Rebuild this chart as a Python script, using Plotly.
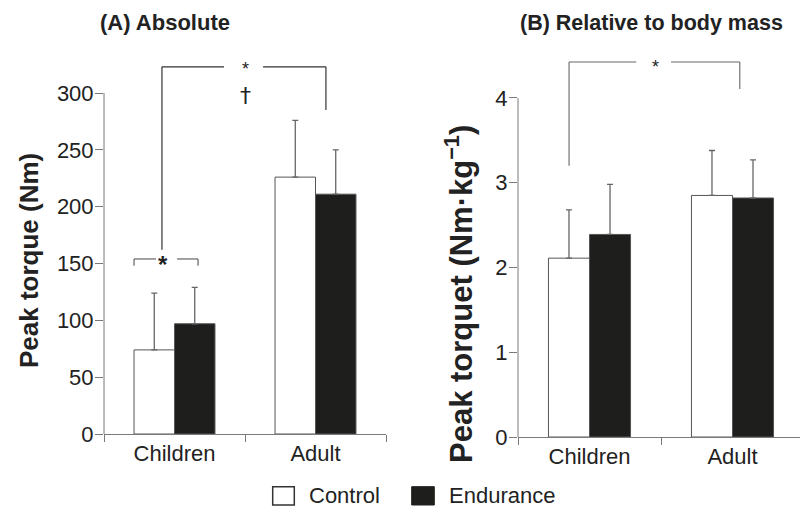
import plotly.graph_objects as go

# ---- data ----
groups = ["Children", "Adult"]
series_names = ["Control", "Endurance"]

abs_control = [74, 226]
abs_control_sd = [50, 50]
abs_endurance = [97, 211]
abs_endurance_sd = [32, 39]

rel_control = [2.11, 2.85]
rel_control_sd = [0.57, 0.53]
rel_endurance = [2.39, 2.82]
rel_endurance_sd = [0.59, 0.45]

abs_ticks = [0, 50, 100, 150, 200, 250, 300]
rel_ticks = [0, 1, 2, 3, 4]

# ---- style ----
FONT = "Liberation Sans, Arial, sans-serif"
AXIS_GREY = "#7a7a7a"
BAR_EDGE = "#555555"
DARK = "#1e1e1c"
TEXT = "#222222"

fig = go.Figure()


def add_bars(values, sd, fill, xa, ya):
    fig.add_trace(go.Bar(
        x=groups, y=values,
        marker=dict(color=fill, line=dict(color=BAR_EDGE, width=1)),
        error_y=dict(type="data", array=sd, arrayminus=[0] * len(sd),
                     symmetric=False, color="#666666", thickness=1.3, width=3),
        xaxis=xa, yaxis=ya, showlegend=False, hoverinfo="skip",
    ))


add_bars(abs_control, abs_control_sd, "white", "x", "y")
add_bars(abs_endurance, abs_endurance_sd, DARK, "x", "y")
add_bars(rel_control, rel_control_sd, "white", "x2", "y2")
add_bars(rel_endurance, rel_endurance_sd, DARK, "x2", "y2")

tickfont = dict(family=FONT, size=22, color=TEXT)

xcommon = dict(type="category", showline=True, linecolor=AXIS_GREY, linewidth=1,
               ticks="outside", tickson="boundaries", ticklen=7, tickcolor=AXIS_GREY,
               tickfont=tickfont, showgrid=False, zeroline=False, fixedrange=True,
               automargin=False)
ycommon = dict(showline=False, ticks="outside", ticklen=8, tickcolor=AXIS_GREY,
               tickfont=tickfont, showgrid=False, zeroline=False, fixedrange=True,
               ticklabelstandoff=-3, automargin=False)

fig.update_layout(
    width=800, height=510,
    margin=dict(l=0, r=0, t=0, b=0, pad=0, autoexpand=False),
    paper_bgcolor="white", plot_bgcolor="white",
    showlegend=False,
    barmode="group", bargap=0.426, bargroupgap=0,
    xaxis=dict(domain=[0.13, 0.4825], range=[-0.5, 1.5], anchor="y", **xcommon),
    yaxis=dict(domain=[0.149, 0.8845], range=[0, 330], tickvals=abs_ticks,
               anchor="x", **ycommon),
    xaxis2=dict(domain=[0.6475, 1.0], range=[-0.5, 1.472], anchor="y2", **xcommon),
    yaxis2=dict(domain=[0.1431, 0.891], range=[0, 4.5], tickvals=rel_ticks,
                anchor="x2", **ycommon),
)

shapes = []
# vertical axis lines stop at the top tick
shapes.append(dict(type="line", xref="x domain", yref="y", x0=0, x1=0,
                   y0=abs_ticks[0], y1=abs_ticks[-1],
                   line=dict(color=AXIS_GREY, width=1)))
shapes.append(dict(type="line", xref="x2 domain", yref="y2", x0=0, x1=0,
                   y0=rel_ticks[0], y1=rel_ticks[-1],
                   line=dict(color=AXIS_GREY, width=1)))


def bracket(xa, ya, xl, xr, ytop, yl, yr, gap, color, width=1.2):
    """Significance bracket with a gap in the top line for the symbol."""
    seg = lambda x0, y0, x1, y1: dict(type="line", xref=xa, yref=ya,
                                       x0=x0, y0=y0, x1=x1, y1=y1,
                                       line=dict(color=color, width=width))
    shapes.extend([
        seg(xl, yl, xl, ytop),
        seg(xl, ytop, gap[0], ytop),
        seg(gap[1], ytop, xr, ytop),
        seg(xr, ytop, xr, yr),
    ])


# adult vs children (absolute)
bracket("x", "y", -0.089, 1.074, 323, 162, 285, (0.351, 0.628), "#333333")
# control vs endurance within children
bracket("x", "y", -0.287, 0.167, 154, 148, 148, (-0.131, 0.018), "#555555", 1.1)
# adult vs children (relative)
bracket("x2", "y2", -0.143, 1.051, 4.425, 3.2, 4.106, (0.327, 0.57), "#666666", 1.1)

# legend swatches
shapes.append(dict(type="rect", xref="paper", yref="paper",
                   x0=272.7 / 800, x1=294.3 / 800, y0=1 - 505 / 510, y1=1 - 486.7 / 510,
                   fillcolor="white", line=dict(color="#333333", width=1.5)))
shapes.append(dict(type="rect", xref="paper", yref="paper",
                   x0=411.7 / 800, x1=434.3 / 800, y0=1 - 505 / 510, y1=1 - 486.7 / 510,
                   fillcolor=DARK, line=dict(color=DARK, width=1)))

fig.update_layout(shapes=shapes)

ann = []


def note(text, x, y, xref="paper", yref="paper", size=22, bold=False, angle=0,
         xanchor="center", family=FONT):
    ann.append(dict(text=f"<b>{text}</b>" if bold else text, x=x, y=y,
                    xref=xref, yref=yref, showarrow=False, textangle=angle,
                    xanchor=xanchor, yanchor="middle",
                    font=dict(family=family, size=size, color=TEXT)))


note("(A) Absolute", 165 / 800, 1 - 23 / 510, size=22, bold=True)
note("(B) Relative to body mass", 651.5 / 800, 1 - 23 / 510, size=21.5, bold=True)
note("Peak torque (Nm)", 29 / 800, 1 - 261 / 510, size=26, bold=True, angle=-90)
note("Peak torquet (Nm·kg<sup>−1</sup>)", 459 / 800, 1 - 294 / 510, size=31,
     bold=True, angle=-90)

# significance symbols
note("*", 0.5, 321, xref="x", yref="y", size=18)
note("†", 0.5, 298, xref="x", yref="y", size=22, family="DejaVu Sans, sans-serif")
note("*", -0.082, 149.5, xref="x", yref="y", size=24, bold=True)
note("*", 0.46, 4.36, xref="x2", yref="y2", size=18)

# legend labels
note(series_names[0], 306.5 / 800, 1 - 495 / 510, size=22, xanchor="left")
note(series_names[1], 446.5 / 800, 1 - 495 / 510, size=22, xanchor="left")

fig.update_layout(annotations=ann)

fig.write_html("out.html")
